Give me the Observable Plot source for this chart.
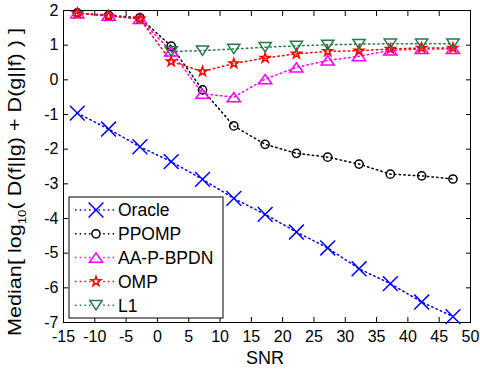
<!DOCTYPE html>
<html><head><meta charset="utf-8">
<script src="https://cdn.jsdelivr.net/npm/d3@7"></script>
<script src="https://cdn.jsdelivr.net/npm/@observablehq/plot@0.6"></script>
<style>body{margin:0;background:#fff}</style>
</head><body><div id="chart"></div>
<script>
const snr = [-12.8, -7.8, -2.8, 2.2, 7.2, 12.2, 17.2, 22.2, 27.2, 32.2, 37.2, 42.2, 47.2];
const oracle = [-0.96, -1.42, -1.93, -2.36, -2.87, -3.42, -3.88, -4.39, -4.85, -5.45, -5.88, -6.41, -6.83];
const ppomp = [1.93, 1.86, 1.79, 0.97, -0.29, -1.33, -1.86, -2.12, -2.23, -2.43, -2.72, -2.77, -2.86];
const aapbpdn = [1.92, 1.85, 1.76, 0.82, -0.4, -0.5, 0.02, 0.36, 0.56, 0.68, 0.85, 0.89, 0.89];
const omp = [1.92, 1.84, 1.76, 0.53, 0.24, 0.47, 0.63, 0.75, 0.82, 0.84, 0.89, 0.92, 0.92];
const l1 = [null, null, null, 0.82, 0.84, 0.89, 0.94, 0.98, 1.01, 1.03, 1.04, 1.04, 1.04];
const seriesNames = ["Oracle", "PPOMP", "AA-P-BPDN", "OMP", "L1"];
const seriesValues = [oracle, ppomp, aapbpdn, omp, l1];
const seriesColors = ["#0000ff", "#000000", "#ff00ff", "#ff0000", "#23794a"];
const xTicks = [-15, -10, -5, 0, 5, 10, 15, 20, 25, 30, 35, 40, 45, 50];
const yTicks = [-7, -6, -5, -4, -3, -2, -1, 0, 1, 2];

const triUp = {draw(ctx, size) {
  const s = Math.sqrt(size), hw = 0.72 * s, hh = 0.5 * s;
  ctx.moveTo(0, -hh); ctx.lineTo(hw, hh); ctx.lineTo(-hw, hh); ctx.closePath();
}};
const triDown = {draw(ctx, size) {
  const s = Math.sqrt(size), hw = 0.72 * s, hh = 0.55 * s;
  ctx.moveTo(0, hh); ctx.lineTo(hw, -hh); ctx.lineTo(-hw, -hh); ctx.closePath();
}};
const seriesSymbols = [d3.symbolTimes, d3.symbolCircle, triUp, d3.symbolStar, triDown];
const seriesR = [6.8, 4.1, 5.2, 3, 4.8];

const series = seriesNames.map((name, i) => ({
  name, color: seriesColors[i], symbol: seriesSymbols[i], r: seriesR[i],
  data: snr.map((x, j) => ({x, y: seriesValues[i][j]})).filter(d => d.y != null)
}));

const marks = [];
for (const s of series) {
  marks.push(Plot.line(s.data, {x: "x", y: "y", stroke: s.color, strokeWidth: 1.5, strokeDasharray: "1.5,3.2"}));
}
for (const s of series) {
  marks.push(Plot.dot(s.data, {x: "x", y: "y", symbol: s.symbol, r: s.r, stroke: s.color, fill: "none", strokeWidth: 1.5}));
}

const chart = Plot.plot({
  width: 480, height: 374,
  marginLeft: 63, marginRight: 10, marginTop: 10, marginBottom: 52,
  style: {fontFamily: "'Liberation Sans', Arial, sans-serif", fontSize: "16px", background: "#fff", color: "#000"},
  x: {domain: [-15, 50]},
  y: {domain: [-7, 2]},
  marks: [
    Plot.frame({stroke: "#000"}),
    Plot.axisX({anchor: "bottom", ticks: xTicks, tickSize: -5, tickPadding: 13.5, label: null, tickFormat: d => String(d)}),
    Plot.axisX({anchor: "top", ticks: xTicks, tickSize: -5, label: null, tickFormat: () => ""}),
    Plot.axisY({anchor: "left", ticks: yTicks, tickSize: -5, tickPadding: 10, label: null, tickFormat: d => String(d)}),
    Plot.axisY({anchor: "right", ticks: yTicks, tickSize: -5, label: null, tickFormat: () => ""}),
    ...marks
  ]
});
document.getElementById("chart").appendChild(chart);

const svg = d3.select(chart);
const FONT = "'Liberation Sans', Arial, sans-serif";
// legend
const lg = svg.append("g").attr("font-family", FONT).attr("font-size", "17.5px").attr("text-anchor", "start");
lg.append("rect").attr("x", 69).attr("y", 197).attr("width", 154).attr("height", 121)
  .attr("fill", "#fff").attr("stroke", "#000").attr("stroke-width", 1);
series.forEach((s, i) => {
  const y = 210 + i * 23.8;
  lg.append("line").attr("x1", 75).attr("x2", 116).attr("y1", y).attr("y2", y)
    .attr("stroke", s.color).attr("stroke-width", 1.5).attr("stroke-dasharray", "1.5,3.2");
  lg.append("path").attr("d", d3.symbol(s.symbol, s.r * s.r * Math.PI)())
    .attr("transform", `translate(96,${y})`).attr("fill", "#fff").attr("stroke", s.color).attr("stroke-width", 1.5);
  lg.append("text").attr("x", 118).attr("y", y).attr("dy", "0.36em").attr("fill", "#000")
    .attr("text-anchor", "start").text(s.name);
});
// axis titles
svg.append("text").attr("x", 265).attr("y", 364).attr("text-anchor", "middle")
  .attr("font-family", FONT).attr("font-size", "18px").attr("fill", "#000").text("SNR");
const yl = svg.append("text").attr("transform", "translate(21,182) rotate(-90)").attr("text-anchor", "middle")
  .attr("font-family", FONT).attr("font-size", "18px").attr("fill", "#000")
  .attr("textLength", 308).attr("lengthAdjust", "spacingAndGlyphs");
yl.append("tspan").text("Median[ log");
yl.append("tspan").attr("dy", 5).attr("font-size", "11px").text("10");
yl.append("tspan").attr("dy", -5).text("( D(f||g) + D(g||f) ) ]");
</script>
</body></html>
